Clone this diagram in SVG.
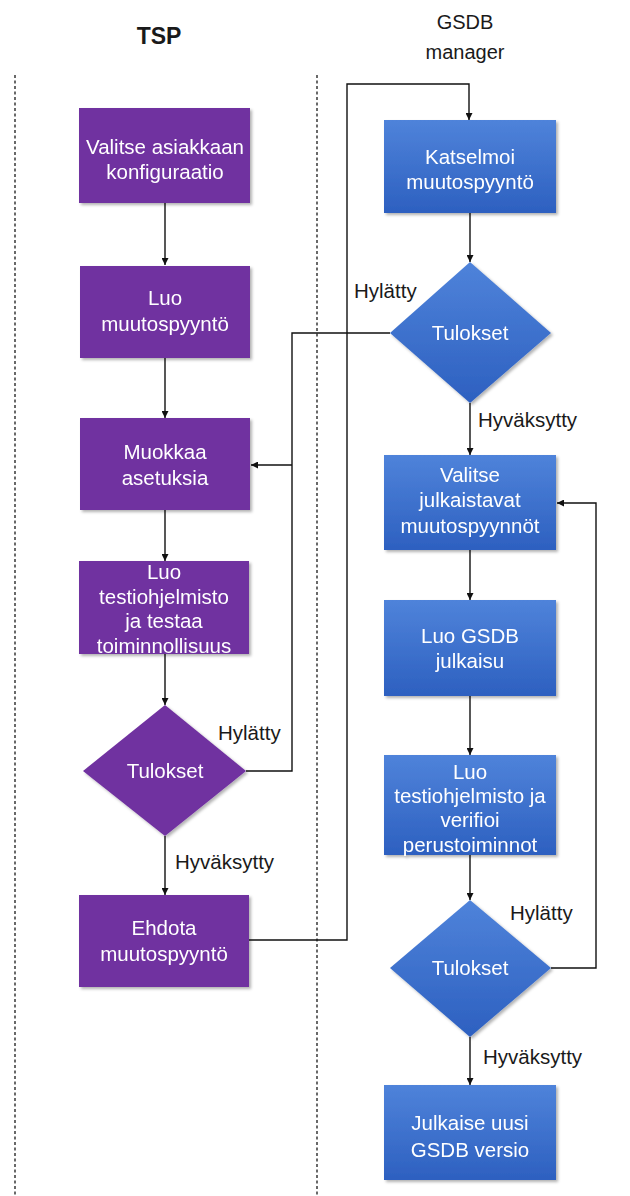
<svg xmlns="http://www.w3.org/2000/svg" width="630" height="1196" viewBox="0 0 630 1196">
<style>
.lane{stroke:#444;stroke-width:1.6;stroke-dasharray:3 2.5;fill:none}
.hdr{font-family:"Liberation Sans",Arial,sans-serif;font-size:20px;fill:#1a1a1a;text-anchor:middle}
.tsp{font-size:23px;font-weight:bold}
.p{fill:#7030A0}
.b{fill:url(#bg)}
.t{font-family:"Liberation Sans",Arial,sans-serif;font-size:20.5px;fill:#fff;text-anchor:middle}
.lbl{font-family:"Liberation Sans",Arial,sans-serif;font-size:20.5px;fill:#1a1a1a}
.c{stroke:#111;stroke-width:1.4;fill:none}
.ca{stroke:#111;stroke-width:1.4;fill:none;marker-end:url(#ah)}
</style>
<defs>
<linearGradient id="bg" x1="0" y1="0" x2="0" y2="1">
<stop offset="0" stop-color="#4F83DA"/>
<stop offset="1" stop-color="#2D60C0"/>
</linearGradient>
<filter id="sh" x="-10%" y="-10%" width="130%" height="130%">
<feDropShadow dx="2" dy="2" stdDeviation="1.5" flood-color="#000" flood-opacity="0.3"/>
</filter>
<marker id="ah" viewBox="0 0 10 10" refX="10" refY="5" markerWidth="7" markerHeight="7" markerUnits="userSpaceOnUse" orient="auto">
<path d="M0,0 L10,5 L0,10 z" fill="#111"/>
</marker>
</defs>
<rect width="630" height="1196" fill="#fff"/>

<g id="lanes">
<line class="lane" x1="15" y1="75" x2="15" y2="1196"/>
<line class="lane" x1="317" y1="75" x2="317" y2="1196"/>
<text class="hdr tsp" x="159" y="44">TSP</text>
<text class="hdr" x="465" y="29">GSDB</text>
<text class="hdr" x="465" y="59">manager</text>
</g>

<g id="connectors">
<line class="ca" x1="165" y1="203" x2="165" y2="265"/>
<line class="ca" x1="165" y1="358" x2="165" y2="418"/>
<line class="ca" x1="165" y1="510" x2="165" y2="561"/>
<line class="ca" x1="165" y1="654" x2="165" y2="705"/>
<line class="ca" x1="165" y1="836" x2="165" y2="895"/>
<polyline class="c" points="390,333 292,333 292,771 246,771"/>
<line class="ca" x1="292" y1="465" x2="251" y2="465"/>
<polyline class="ca" points="248,940 347,940 347,84 469,84 469,120"/>
<line class="ca" x1="470" y1="213" x2="470" y2="262"/>
<line class="ca" x1="470" y1="403" x2="470" y2="455"/>
<line class="ca" x1="470" y1="550" x2="470" y2="600"/>
<line class="ca" x1="470" y1="696" x2="470" y2="755"/>
<line class="ca" x1="470" y1="855" x2="470" y2="900"/>
<polyline class="ca" points="551,968 596,968 596,503 557,503"/>
<line class="ca" x1="470" y1="1037" x2="470" y2="1085"/>
<text class="lbl" x="354" y="298">Hylätty</text>
<text class="lbl" x="478" y="427">Hyväksytty</text>
<text class="lbl" x="218" y="740">Hylätty</text>
<text class="lbl" x="175" y="869">Hyväksytty</text>
<text class="lbl" x="510" y="920">Hylätty</text>
<text class="lbl" x="483" y="1064">Hyväksytty</text>
</g>

<g id="n1" filter="url(#sh)"><rect class="p" x="79" y="108" width="171" height="95"/>
<text class="t" x="165" y="154">Valitse asiakkaan</text><text class="t" x="165" y="179">konfiguraatio</text></g>
<g id="n2" filter="url(#sh)"><rect class="p" x="80" y="266" width="170" height="92"/>
<text class="t" x="165" y="305">Luo</text><text class="t" x="165" y="331">muutospyyntö</text></g>
<g id="n3" filter="url(#sh)"><rect class="p" x="80" y="418" width="170" height="92"/>
<text class="t" x="165" y="459">Muokkaa</text><text class="t" x="165" y="485">asetuksia</text></g>
<g id="n4" filter="url(#sh)"><rect class="p" x="79" y="561" width="170" height="93"/>
<text class="t" x="164" y="579">Luo</text><text class="t" x="164" y="604">testiohjelmisto</text><text class="t" x="164" y="628">ja testaa</text><text class="t" x="164" y="653">toiminnollisuus</text></g>
<g id="n5" filter="url(#sh)"><polygon class="p" points="165,705 246,771 165,836 83,771"/>
<text class="t" x="165" y="778">Tulokset</text></g>
<g id="n6" filter="url(#sh)"><rect class="p" x="79" y="895" width="170" height="92"/>
<text class="t" x="164" y="935">Ehdota</text><text class="t" x="164" y="961">muutospyyntö</text></g>

<g id="m1" filter="url(#sh)"><rect class="b" x="384" y="120" width="172" height="93"/>
<text class="t" x="470" y="164">Katselmoi</text><text class="t" x="470" y="189">muutospyyntö</text></g>
<g id="m2" filter="url(#sh)"><polygon class="b" points="470,262 551,333 470,403 390,333"/>
<text class="t" x="470" y="340">Tulokset</text></g>
<g id="m3" filter="url(#sh)"><rect class="b" x="384" y="455" width="172" height="95"/>
<text class="t" x="470" y="482">Valitse</text><text class="t" x="470" y="507">julkaistavat</text><text class="t" x="470" y="533">muutospyynnöt</text></g>
<g id="m4" filter="url(#sh)"><rect class="b" x="384" y="600" width="172" height="96"/>
<text class="t" x="470" y="643">Luo GSDB</text><text class="t" x="470" y="668">julkaisu</text></g>
<g id="m5" filter="url(#sh)"><rect class="b" x="384" y="755" width="172" height="100"/>
<text class="t" x="470" y="779">Luo</text><text class="t" x="470" y="803">testiohjelmisto ja</text><text class="t" x="470" y="827">verifioi</text><text class="t" x="470" y="852">perustoiminnot</text></g>
<g id="m6" filter="url(#sh)"><polygon class="b" points="470,900 551,968 470,1037 390,968"/>
<text class="t" x="470" y="975">Tulokset</text></g>
<g id="m7" filter="url(#sh)"><rect class="b" x="384" y="1085" width="172" height="95"/>
<text class="t" x="470" y="1130">Julkaise uusi</text><text class="t" x="470" y="1157">GSDB versio</text></g>
</svg>
